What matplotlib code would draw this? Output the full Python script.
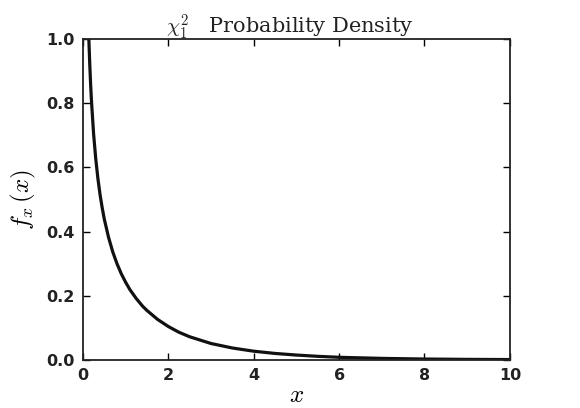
import matplotlib
matplotlib.use('Agg')
import matplotlib.pyplot as plt

# Values
x_vals = [0.14, 0.16, 0.18, 0.2, 0.25, 0.3, 0.35, 0.4, 0.45, 0.5, 0.6, 0.7, 0.8, 0.9,
          1.0, 1.1, 1.25, 1.4, 1.5, 1.75, 2.0, 2.25, 2.5, 3.0, 3.5, 4.0, 4.5, 5.0,
          5.5, 6.0, 7.0, 8.0, 9.0, 10.0]
y_vals = [0.994, 0.921, 0.859, 0.807, 0.704, 0.627, 0.566, 0.516, 0.475, 0.439, 0.382,
          0.336, 0.299, 0.268, 0.242, 0.219, 0.191, 0.167, 0.154, 0.126, 0.104, 0.086,
          0.072, 0.051, 0.037, 0.027, 0.020, 0.015, 0.011, 0.008, 0.0046, 0.0026,
          0.0015, 0.0009]
x_ticks = [0, 2, 4, 6, 8, 10]
y_ticks = [0.0, 0.2, 0.4, 0.6, 0.8, 1.0]

plt.rcParams['mathtext.fontset'] = 'cm'

fig = plt.figure(figsize=(5.8, 4.08), dpi=100)
ax = fig.add_axes([0.143, 0.118, 0.736, 0.786])
ax.plot(x_vals, y_vals, color='#111111', linewidth=2.3)

ax.set_xlim(0, 10)
ax.set_ylim(0, 1.0)
ax.set_xticks(x_ticks)
ax.set_yticks(y_ticks)
ax.tick_params(direction='in', top=True, right=True, length=5, width=1,
               labelsize=11.5, pad=6, labelcolor='#222222')
for lab in ax.get_xticklabels() + ax.get_yticklabels():
    lab.set_fontweight('semibold')
for s in ax.spines.values():
    s.set_linewidth(1.3)
    s.set_color('#222222')

ax.set_title(r'$\chi_1^2$   Probability Density', fontsize=15, pad=4, x=0.485,
             fontfamily='DejaVu Serif', color='#222222')
ax.set_xlabel(r'$x$', fontsize=18, labelpad=0)
ax.set_ylabel(r'$f_x\,(x)$', fontsize=18, labelpad=6)

fig.savefig('out.png', dpi=100)
